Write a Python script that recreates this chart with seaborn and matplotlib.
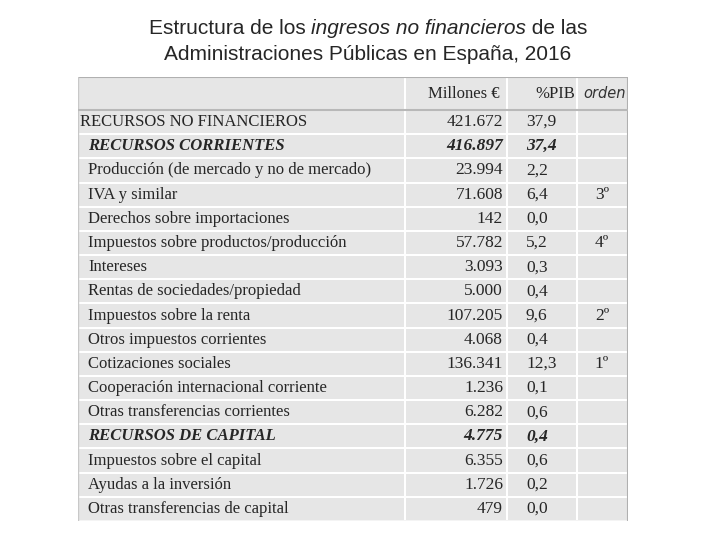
import numpy as np
import matplotlib
matplotlib.use("Agg")
import matplotlib.pyplot as plt
import seaborn as sns

labels = ["RECURSOS NO FINANCIEROS", "RECURSOS CORRIENTES",
          "Producción (de mercado y no de mercado)", "IVA y similar",
          "Derechos sobre importaciones", "Impuestos sobre productos/producción",
          "Intereses", "Rentas de sociedades/propiedad", "Impuestos sobre la renta",
          "Otros impuestos corrientes", "Cotizaciones sociales",
          "Cooperación internacional corriente", "Otras transferencias corrientes",
          "RECURSOS DE CAPITAL", "Impuestos sobre el capital",
          "Ayudas a la inversión", "Otras transferencias de capital"]
millones = ["421.672", "416.897", "23.994", "71.608", "142", "57.782", "3.093",
            "5.000", "107.205", "4.068", "136.341", "1.236", "6.282", "4.775",
            "6.355", "1.726", "479"]
pib = ["37,9", "37,4", "2,2", "6,4", "0,0", "5,2", "0,3", "0,4", "9,6", "0,4",
       "12,3", "0,1", "0,6", "0,4", "0,6", "0,2", "0,0"]
orden = ["", "", "", "3º", "", "4º", "", "", "2º", "", "1º", "", "", "", "", "", ""]
headers = ["", "Millones €", "%PIB", "orden"]
emph = [1, 13]

sns.set_theme(style="white")
plt.rcParams['font.family'] = ['Liberation Serif', 'DejaVu Serif']

W, H = 720, 540
fig = plt.figure(figsize=(7.2, 5.4), dpi=100)
fig.patch.set_facecolor("white")
x0, x1, y0, y1 = 78, 628, 77, 521
ax = fig.add_axes([x0 / W, 1 - y1 / H, (x1 - x0) / W, (y1 - y0) / H])
ax.set_xlim(x0, x1)
ax.set_ylim(y1, y0)
ax.axis("off")

xedges = np.array([x0, 405, 507, 577, x1])
n = len(labels)
yedges = np.concatenate([[y0, 110], np.linspace(110, y1, n + 1)[1:]])
vals = np.zeros((n + 1, 4))
ax.pcolormesh(xedges, yedges, vals, cmap=matplotlib.colors.ListedColormap(["#e6e6e6"]),
              edgecolors="white", linewidth=1.2)
ax.plot([x0, x1, x1], [y0, y0, y1], color="#b0b0b0", lw=1.5)
ax.plot([x0, x0, x1], [y0, y1, y1], color="#c8c8c8", lw=1)
ax.plot([x0, x1], [110, 110], color="#b8b8b8", lw=1.5)

fs = 12
yc = (yedges[:-1] + yedges[1:]) / 2
ax.text(500, yc[0], headers[1], ha="right", va="center", fontsize=fs)
ax.text(575, yc[0], headers[2], ha="right", va="center", fontsize=fs)
ax.text(626, yc[0], headers[3], ha="right", va="center", style="italic",
        family=["DejaVu Sans"], color="#333333", fontsize=10.5)
for i in range(n):
    y = yc[i + 1]
    kw = dict(fontweight="bold", style="italic") if i in emph else {}
    ax.text(80 if i == 0 else 88, y, labels[i], ha="left", va="center", fontsize=fs, **kw)
    ax.text(503, y, millones[i], ha="right", va="center", fontsize=fs + 0.5, **kw)
    ax.text(526, y, pib[i], ha="left", va="center", fontsize=fs + 0.5, **kw)
    ax.text(602, y, orden[i], ha="center", va="center", fontsize=fs + 0.5)

parts = [("Estructura de los ", "normal"), ("ingresos no financieros", "italic"),
         (" de las", "normal")]
fig.canvas.draw()
r = fig.canvas.get_renderer()
objs = [fig.text(0, 1 - 28 / H, p, fontsize=15, family="Liberation Sans", style=s,
                 va="center") for p, s in parts]
widths = [o.get_window_extent(r).width for o in objs]
x = 368 - sum(widths) / 2
for o, w in zip(objs, widths):
    o.set_x(x / W)
    x += w
fig.text(368 / W, 1 - 55 / H, "Administraciones Públicas en España, 2016", ha="center",
         va="center", fontsize=15, family="Liberation Sans")

fig.savefig("out.png", dpi=100)
